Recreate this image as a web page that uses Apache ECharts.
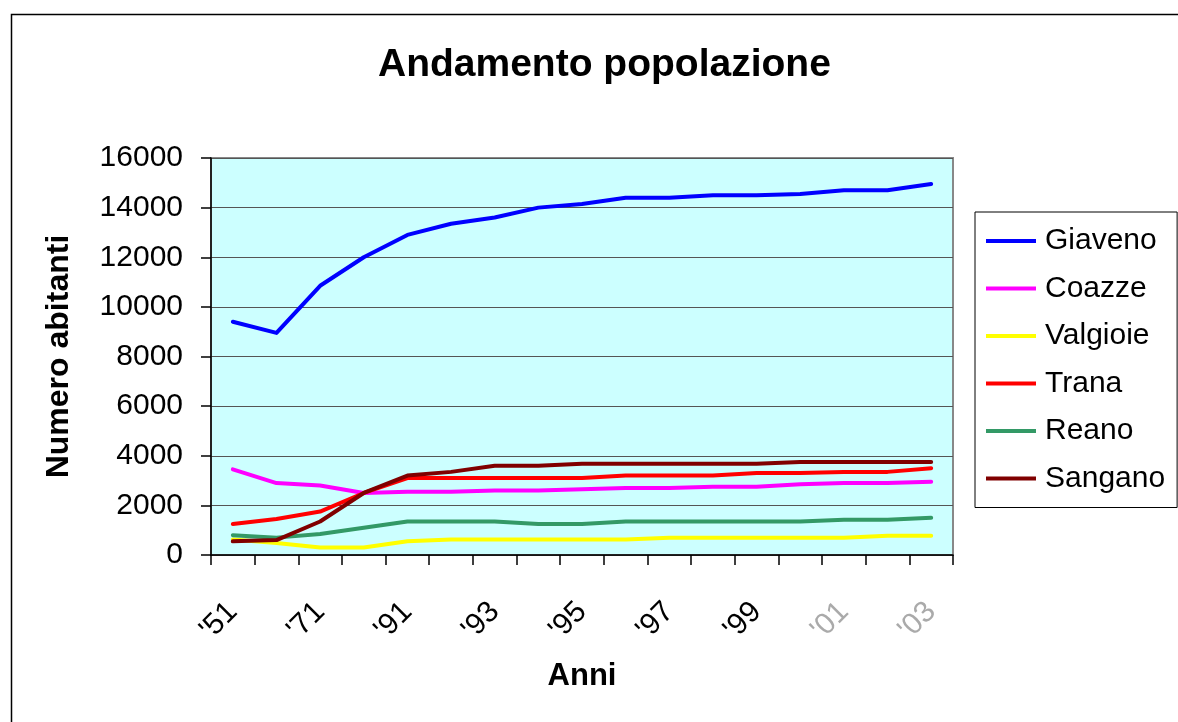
<!DOCTYPE html>
<html>
<head>
<meta charset="utf-8">
<title>Andamento popolazione</title>
<script src="https://cdn.jsdelivr.net/npm/echarts@6/dist/echarts.min.js"></script>
<style>
html, body { margin: 0; padding: 0; background: #fff; }
#chart { width: 1178px; height: 722px; }
</style>
</head>
<body>
<div id="chart"></div>
<script>
// anni del censimento / rilevazione
const anni = ["'51", "'61", "'71", "'81", "'91", "'92", "'93", "'94", "'95", "'96", "'97", "'98", "'99", "'00", "'01", "'02", "'03"];

const giaveno  = [9400, 8950, 10850, 12000, 12900, 13350, 13600, 14000, 14150, 14400, 14400, 14500, 14500, 14550, 14700, 14700, 14950];
const coazze   = [3450, 2900, 2800, 2500, 2550, 2550, 2600, 2600, 2650, 2700, 2700, 2750, 2750, 2850, 2900, 2900, 2950];
const valgioie = [620, 480, 300, 300, 550, 620, 620, 620, 620, 620, 700, 700, 700, 700, 700, 780, 780];
const trana    = [1250, 1450, 1750, 2500, 3100, 3100, 3100, 3100, 3100, 3200, 3200, 3200, 3300, 3300, 3350, 3350, 3500];
const reano    = [800, 700, 850, 1100, 1350, 1350, 1350, 1250, 1250, 1350, 1350, 1350, 1350, 1350, 1420, 1420, 1500];
const sangano  = [550, 600, 1350, 2500, 3200, 3350, 3600, 3600, 3680, 3680, 3680, 3680, 3680, 3750, 3750, 3750, 3750];

const comuni = [
  { name: 'Giaveno',  data: giaveno,  color: '#0000FF' },
  { name: 'Coazze',   data: coazze,   color: '#FF00FF' },
  { name: 'Valgioie', data: valgioie, color: '#FFFF00' },
  { name: 'Trana',    data: trana,    color: '#FF0000' },
  { name: 'Reano',    data: reano,    color: '#339966' },
  { name: 'Sangano',  data: sangano,  color: '#800000' }
];

const font = '"Liberation Sans", Arial, sans-serif';

const option = {
  animation: false,
  backgroundColor: '#fff',
  textStyle: { fontFamily: font },
  title: {
    text: 'Andamento popolazione',
    left: 373,
    top: 41,
    textStyle: { fontFamily: font, fontSize: 39, fontWeight: 'bold', color: '#000' }
  },
  legend: {
    orient: 'vertical',
    left: 975,
    top: 212,
    padding: [11, 12, 11, 11],
    itemGap: 11.5,
    itemWidth: 50,
    itemHeight: 4,
    icon: 'rect',
    borderColor: '#000',
    borderWidth: 1,
    textStyle: { fontFamily: font, fontSize: 30, color: '#000', lineHeight: 36, padding: [0, 0, 0, 4] },
    data: comuni.map(c => c.name)
  },
  grid: {
    left: 211,
    right: 225,
    top: 158,
    bottom: 167,
    show: true,
    backgroundColor: '#CCFFFF',
    borderColor: '#888',
    borderWidth: 2
  },
  xAxis: {
    type: 'category',
    data: anni,
    boundaryGap: true,
    name: 'Anni',
    nameLocation: 'middle',
    nameGap: 106,
    nameTextStyle: { fontFamily: font, fontSize: 31, fontWeight: 'bold', color: '#000' },
    axisLine: { lineStyle: { color: '#000', width: 1.5 } },
    axisTick: { show: true, interval: 0, length: 10, lineStyle: { color: '#000', width: 1.5 } },
    axisLabel: {
      interval: 1,
      rotate: 45,
      margin: 52,
      fontFamily: font,
      fontSize: 30,
      color: function (value) {
        return (value === "'01" || value === "'03") ? '#aaa' : '#000';
      }
    },
    splitLine: { show: false }
  },
  yAxis: {
    type: 'value',
    min: 0,
    max: 16000,
    interval: 2000,
    name: 'Numero abitanti',
    nameLocation: 'middle',
    nameGap: 136,
    nameTextStyle: { fontFamily: font, fontSize: 32, fontWeight: 'bold', color: '#000' },
    axisLine: { show: true, lineStyle: { color: '#000', width: 1.5 } },
    axisTick: { show: true, length: 10, lineStyle: { color: '#000', width: 1.5 } },
    axisLabel: {
      margin: 28,
      fontFamily: font,
      fontSize: 30,
      color: '#000',
      formatter: function (v) { return String(v); }
    },
    splitLine: { show: true, lineStyle: { color: '#555', width: 1.2 } }
  },
  graphic: [
    {
      type: 'rect',
      left: 9,
      top: 12,
      shape: { width: 1300, height: 800 },
      style: { fill: 'none', stroke: '#000', lineWidth: 1.5 },
      silent: true
    }
  ],
  series: comuni.map(c => ({
    name: c.name,
    type: 'line',
    data: c.data,
    showSymbol: false,
    symbol: 'none',
    color: c.color,
    lineStyle: { color: c.color, width: 4, cap: 'round', join: 'round' }
  }))
};

const chart = echarts.init(document.getElementById('chart'));
chart.setOption(option);
</script>
</body>
</html>
